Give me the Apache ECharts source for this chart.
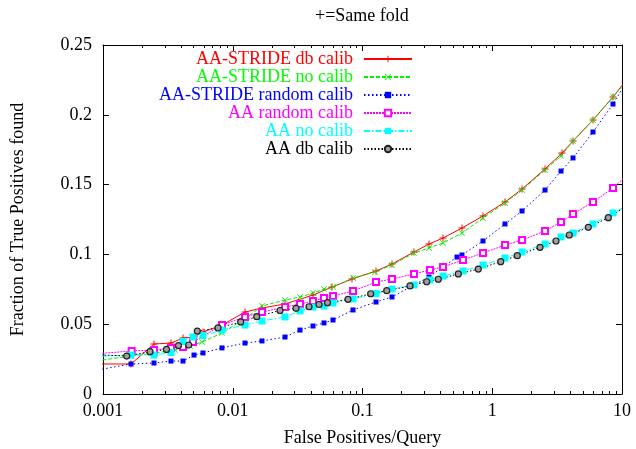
<!DOCTYPE html>
<html>
<head>
<meta charset="utf-8">
<script src="https://cdn.jsdelivr.net/npm/echarts@6/dist/echarts.min.js"></script>
<style>
  html, body { margin: 0; padding: 0; background: #ffffff; }
  #chart { width: 636px; height: 449px; }
</style>
</head>
<body>
<div id="chart"></div>
<script>
// Series names, in plotting order
const seriesNames = [
  'AA-STRIDE db calib',
  'AA-STRIDE no calib',
  'AA-STRIDE random calib',
  'AA random calib',
  'AA no calib',
  'AA db calib'
];

// AA-STRIDE db calib
const strideDbX = [0.0008, 0.001644, 0.002471, 0.003342, 0.004136, 0.005027, 0.005898, 0.008262, 0.01243, 0.0168, 0.0253, 0.04155, 0.05818, 0.0830, 0.1271, 0.1688, 0.2493, 0.3255, 0.4173, 0.5845, 0.8487, 1.254, 1.696, 2.551, 3.448, 4.193, 5.977, 8.524, 11];
const strideDbY = [0.0215, 0.0215, 0.0358, 0.0365, 0.0401, 0.0408, 0.0444, 0.0494, 0.0587, 0.0616, 0.0645, 0.0709, 0.0766, 0.0824, 0.0881, 0.0931, 0.1017, 0.1074, 0.1117, 0.1189, 0.1275, 0.1375, 0.1468, 0.1612, 0.1726, 0.1812, 0.1963, 0.2127, 0.226];

// AA-STRIDE no calib
const strideNoX = [0.0008, 0.001644, 0.002517, 0.003589, 0.004683, 0.005794, 0.008262, 0.01243, 0.0168, 0.02528, 0.03299, 0.04155, 0.0505, 0.05923, 0.0845, 0.1248, 0.1688, 0.2493, 0.3255, 0.4173, 0.5845, 0.8487, 1.254, 1.696, 2.551, 3.388, 4.193, 5.977, 8.524, 11];
const strideNoY = [0.0231, 0.0272, 0.0294, 0.0315, 0.0344, 0.0372, 0.0437, 0.0540, 0.0630, 0.0673, 0.0695, 0.0723, 0.0752, 0.0766, 0.0831, 0.0874, 0.0924, 0.1010, 0.1046, 0.1082, 0.1153, 0.1261, 0.1368, 0.1461, 0.1605, 0.1705, 0.1812, 0.1963, 0.2127, 0.225];

// AA-STRIDE random calib
const strideRandomX = [0.0008, 0.001644, 0.002471, 0.003342, 0.004136, 0.005027, 0.005898, 0.008262, 0.01243, 0.0168, 0.02528, 0.03299, 0.04155, 0.0505, 0.05923, 0.0845, 0.1271, 0.1688, 0.2493, 0.3255, 0.4173, 0.535, 0.5845, 0.8487, 1.254, 1.696, 2.551, 3.388, 4.193, 5.977, 8.524, 11];
const strideRandomY = [0.0163, 0.0215, 0.0222, 0.0236, 0.0236, 0.0279, 0.0294, 0.0330, 0.0365, 0.0380, 0.0408, 0.0458, 0.0487, 0.0509, 0.0530, 0.0602, 0.0659, 0.0695, 0.0781, 0.0838, 0.0910, 0.0981, 0.0996, 0.1096, 0.1218, 0.1311, 0.1461, 0.1597, 0.1691, 0.1877, 0.2077, 0.225];

// AA random calib
const aaRandomX = [0.0008, 0.001664, 0.002471, 0.003342, 0.004136, 0.004938, 0.008262, 0.01243, 0.0168, 0.02528, 0.03299, 0.04155, 0.0505, 0.05923, 0.0845, 0.1271, 0.1688, 0.2493, 0.3313, 0.4173, 0.5952, 0.8487, 1.254, 1.696, 2.551, 3.388, 4.193, 5.977, 8.524, 11];
const aaRandomY = [0.0285, 0.0308, 0.0315, 0.0330, 0.0337, 0.0372, 0.0494, 0.0552, 0.0587, 0.0623, 0.0645, 0.0666, 0.0688, 0.0702, 0.0738, 0.0802, 0.0824, 0.0860, 0.0888, 0.0910, 0.0960, 0.1010, 0.1067, 0.1103, 0.1168, 0.1232, 0.1289, 0.1375, 0.1476, 0.1569];

// AA no calib
const aaNoX = [0.0008, 0.001644, 0.002471, 0.003342, 0.004136, 0.004938, 0.005898, 0.008262, 0.01243, 0.0168, 0.02528, 0.03299, 0.04155, 0.0505, 0.05923, 0.0845, 0.1271, 0.1688, 0.2493, 0.3313, 0.4173, 0.5952, 0.8487, 1.254, 1.696, 2.551, 3.388, 4.193, 5.977, 8.524, 11];
const aaNoY = [0.0269, 0.0279, 0.0279, 0.0297, 0.0376, 0.0408, 0.0419, 0.0458, 0.0494, 0.0523, 0.0552, 0.0595, 0.0623, 0.0630, 0.0652, 0.0681, 0.0720, 0.0752, 0.0781, 0.0817, 0.0845, 0.0881, 0.0924, 0.0974, 0.1017, 0.1074, 0.1125, 0.1153, 0.1218, 0.1297, 0.135];

// AA db calib
const aaDbX = [0.0008, 0.001523, 0.002303, 0.003087, 0.003818, 0.004576, 0.00533, 0.007697, 0.01151, 0.0153, 0.02313, 0.03074, 0.0387, 0.04621, 0.05373, 0.07731, 0.1156, 0.1537, 0.2323, 0.3125, 0.3838, 0.5475, 0.7807, 1.162, 1.56, 2.333, 3.099, 3.925, 5.499, 7.846, 11];
const aaDbY = [0.0283, 0.0272, 0.0303, 0.0319, 0.0347, 0.0351, 0.0451, 0.0473, 0.0516, 0.0554, 0.0598, 0.0614, 0.0625, 0.0641, 0.0654, 0.0678, 0.0718, 0.0740, 0.0774, 0.0804, 0.0822, 0.0860, 0.0895, 0.0948, 0.0991, 0.1051, 0.1096, 0.1139, 0.1194, 0.1263, 0.135];

// Axis ticks
const xMajorTicks = [0.001, 0.01, 0.1, 1, 10];
const xTickLabels = ['0.001', '0.01', '0.1', '1', '10'];
const xMinorTicks = [
  0.002, 0.003, 0.004, 0.005, 0.006, 0.007, 0.008, 0.009,
  0.02, 0.03, 0.04, 0.05, 0.06, 0.07, 0.08, 0.09,
  0.2, 0.3, 0.4, 0.5, 0.6, 0.7, 0.8, 0.9,
  2, 3, 4, 5, 6, 7, 8, 9
];
const yTickLabels = ['0', '0.05', '0.1', '0.15', '0.2', '0.25'];

const xSets = [strideDbX, strideNoX, strideRandomX, aaRandomX, aaNoX, aaDbX];
const ySets = [strideDbY, strideNoY, strideRandomY, aaRandomY, aaNoY, aaDbY];

const serif = '"Liberation Serif", "Times New Roman", serif';
const plusPath = 'path://M4.3,0H5.7V4.3H10V5.7H5.7V10H4.3V5.7H0V4.3H4.3Z';
const crossPath = 'path://M0.9,0L5,4.1L9.1,0L10,0.9L5.9,5L10,9.1L9.1,10L5,5.9L0.9,10L0,9.1L4.1,5L0,0.9Z';

// Line and point styles per series
const looks = [
  { color: '#ff0000', text: '#ff0000', dash: 'solid', symbol: plusPath, size: 7 },
  { color: '#00ee00', text: '#00ff00', dash: [4, 2], symbol: crossPath, size: 6 },
  { color: '#0000ff', text: '#0000ff', dash: [1.5, 2.5], symbol: 'rect', size: 5 },
  { color: '#ff00ff', text: '#ff00ff', dash: [2, 1], symbol: 'emptyRect', size: 6 },
  { color: '#00ffff', text: '#00ffff', dash: [6, 2, 1.5, 2], symbol: 'rect', size: 7 },
  { color: '#000000', text: '#000000', dash: [1.5, 2], symbol: 'circle', size: 6, fill: '#a0a0a0', border: '#222222' }
];

const series = seriesNames.map(function (name, i) {
  const look = looks[i];
  const pts = xSets[i].map(function (x, j) { return [x, ySets[i][j]]; });
  const itemStyle = look.fill
    ? { color: look.fill, borderColor: look.border, borderWidth: 1.2 }
    : (look.symbol === 'emptyRect'
        ? { color: look.color, borderColor: look.color, borderWidth: 1 }
        : { color: look.color, borderWidth: 0 });
  return {
    name: name,
    type: 'line',
    data: pts,
    clip: true,
    symbol: look.symbol,
    symbolSize: look.size,
    showSymbol: true,
    smooth: false,
    lineStyle: { color: look.color, width: 1, type: look.dash },
    itemStyle: itemStyle,
    emphasis: { disabled: true },
    animation: false
  };
});

const axisLineStyle = { show: true, lineStyle: { color: '#000', width: 1 } };

const option = {
  backgroundColor: '#ffffff',
  animation: false,
  title: {
    text: '+=Same fold',
    left: 315,
    top: 7,
    padding: 0,
    textStyle: { fontFamily: serif, fontSize: 18, fontWeight: 'normal', color: '#000' }
  },
  legend: {
    orient: 'vertical',
    align: 'right',
    right: 223,
    top: 50,
    padding: 0,
    itemGap: 0,
    itemWidth: 48,
    itemHeight: 8,
    selectedMode: false,
    textStyle: { fontFamily: serif, fontSize: 18, lineHeight: 18, padding: [0, 6, 0, 0] },
    data: seriesNames.map(function (n, i) {
      return { name: n, textStyle: { color: looks[i].text } };
    })
  },
  grid: { left: 103, right: 14, top: 45, bottom: 55, containLabel: false, outerBoundsMode: 'none' },
  xAxis: [
    {
      type: 'log', logBase: 10, min: 0.001, max: 10, position: 'bottom',
      name: 'False Positives/Query', nameLocation: 'middle', nameGap: 35,
      nameTextStyle: { fontFamily: serif, fontSize: 18, color: '#000' },
      axisLine: axisLineStyle,
      axisTick: { show: true, inside: true, length: 6, customValues: xMajorTicks, lineStyle: { color: '#000' } },
      axisLabel: {
        customValues: xMajorTicks, margin: 8, fontFamily: serif, fontSize: 18, color: '#000',
        formatter: function (v) {
          const k = xMajorTicks.findIndex(function (t) { return Math.abs(Math.log10(t) - Math.log10(v)) < 1e-6; });
          return k >= 0 ? xTickLabels[k] : '';
        }
      },
      splitLine: { show: false }
    },
    {
      type: 'log', logBase: 10, min: 0.001, max: 10, position: 'bottom',
      axisLine: { show: false },
      axisTick: { show: true, inside: true, length: 3, customValues: xMinorTicks, lineStyle: { color: '#000' } },
      axisLabel: { show: false },
      splitLine: { show: false }
    },
    {
      type: 'log', logBase: 10, min: 0.001, max: 10, position: 'top',
      axisLine: axisLineStyle,
      axisTick: { show: true, inside: true, length: 6, customValues: xMajorTicks, lineStyle: { color: '#000' } },
      axisLabel: { show: false },
      splitLine: { show: false }
    },
    {
      type: 'log', logBase: 10, min: 0.001, max: 10, position: 'top',
      axisLine: { show: false },
      axisTick: { show: true, inside: true, length: 3, customValues: xMinorTicks, lineStyle: { color: '#000' } },
      axisLabel: { show: false },
      splitLine: { show: false }
    }
  ],
  yAxis: [
    {
      type: 'value', min: 0, max: 0.25, interval: 0.05, position: 'left',
      name: 'Fraction of True Positives found', nameLocation: 'middle', nameGap: 76,
      nameTextStyle: { fontFamily: serif, fontSize: 18, color: '#000' },
      axisLine: axisLineStyle,
      axisTick: { show: true, inside: true, length: 6, lineStyle: { color: '#000' } },
      axisLabel: {
        margin: 11, fontFamily: serif, fontSize: 18, color: '#000',
        formatter: function (v) { return yTickLabels[Math.round(v / 0.05)]; }
      },
      splitLine: { show: false }
    },
    {
      type: 'value', min: 0, max: 0.25, interval: 0.05, position: 'right',
      axisLine: axisLineStyle,
      axisTick: { show: true, inside: true, length: 6, lineStyle: { color: '#000' } },
      axisLabel: { show: false },
      splitLine: { show: false }
    }
  ],
  series: series
};

const chart = echarts.init(document.getElementById('chart'), null, { renderer: 'canvas' });
chart.setOption(option);
</script>
</body>
</html>
